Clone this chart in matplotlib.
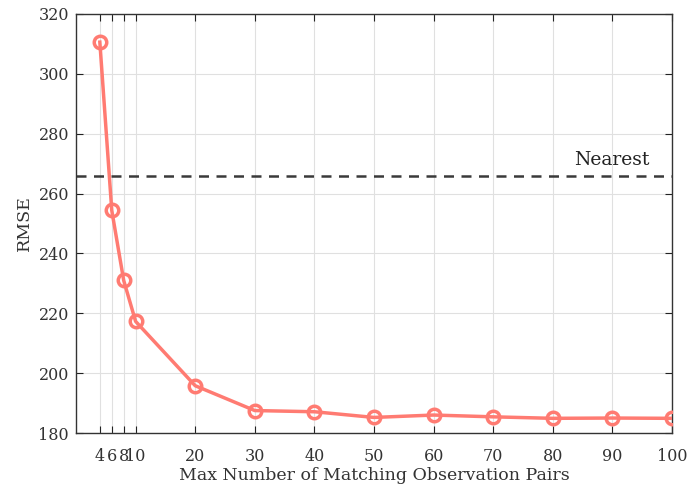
import matplotlib.pyplot as plt

# Ошибка RMSE в зависимости от максимального числа пар наблюдений
max_pairs = [4, 6, 8, 10, 20, 30, 40, 50, 60, 70, 80, 90, 100]
rmse = [310.6, 254.4, 231.0, 217.3, 195.8, 187.5, 187.1, 185.2, 186.0, 185.4, 184.9, 185.0, 184.9]
nearest_rmse = 266.0

plt.rcParams['font.family'] = ['DejaVu Serif']

fig = plt.figure(figsize=(6.88, 4.88), dpi=100)
ax = fig.add_axes([76 / 688, 55 / 488, 596 / 688, 419 / 488])

ax.plot(max_pairs, rmse, color='#ff7b72', linewidth=2.5, marker='o',
        markersize=9, markerfacecolor='none', markeredgewidth=2.5, zorder=3)
ax.axhline(nearest_rmse, color='#3a3a3a', linestyle=(0, (4, 3)), linewidth=1.8, zorder=2)
ax.text(96.3, nearest_rmse + 2.2, 'Nearest', ha='right', va='bottom', fontsize=13.5, color='#222222')

ax.set_xlim(0, 100)
ax.set_ylim(180, 320)
ax.set_xticks(max_pairs)
ax.set_yticks(range(180, 321, 20))
ax.grid(True, color='#e0e0e0', linewidth=0.8)
ax.set_axisbelow(True)
ax.tick_params(direction='in', top=True, right=True, length=5, labelsize=11.5,
               colors='#222222', labelcolor='#333333')
ax.tick_params(axis='x', pad=11)
ax.tick_params(axis='y', pad=5)
for s in ax.spines.values():
    s.set_color('#333333')
    s.set_linewidth(1.0)

ax.set_xlabel('Max Number of Matching Observation Pairs', fontsize=12.5, color='#333333', labelpad=1)
ax.set_ylabel('RMSE', fontsize=12.5, color='#333333', labelpad=4)

fig.savefig('out.png', dpi=100)
